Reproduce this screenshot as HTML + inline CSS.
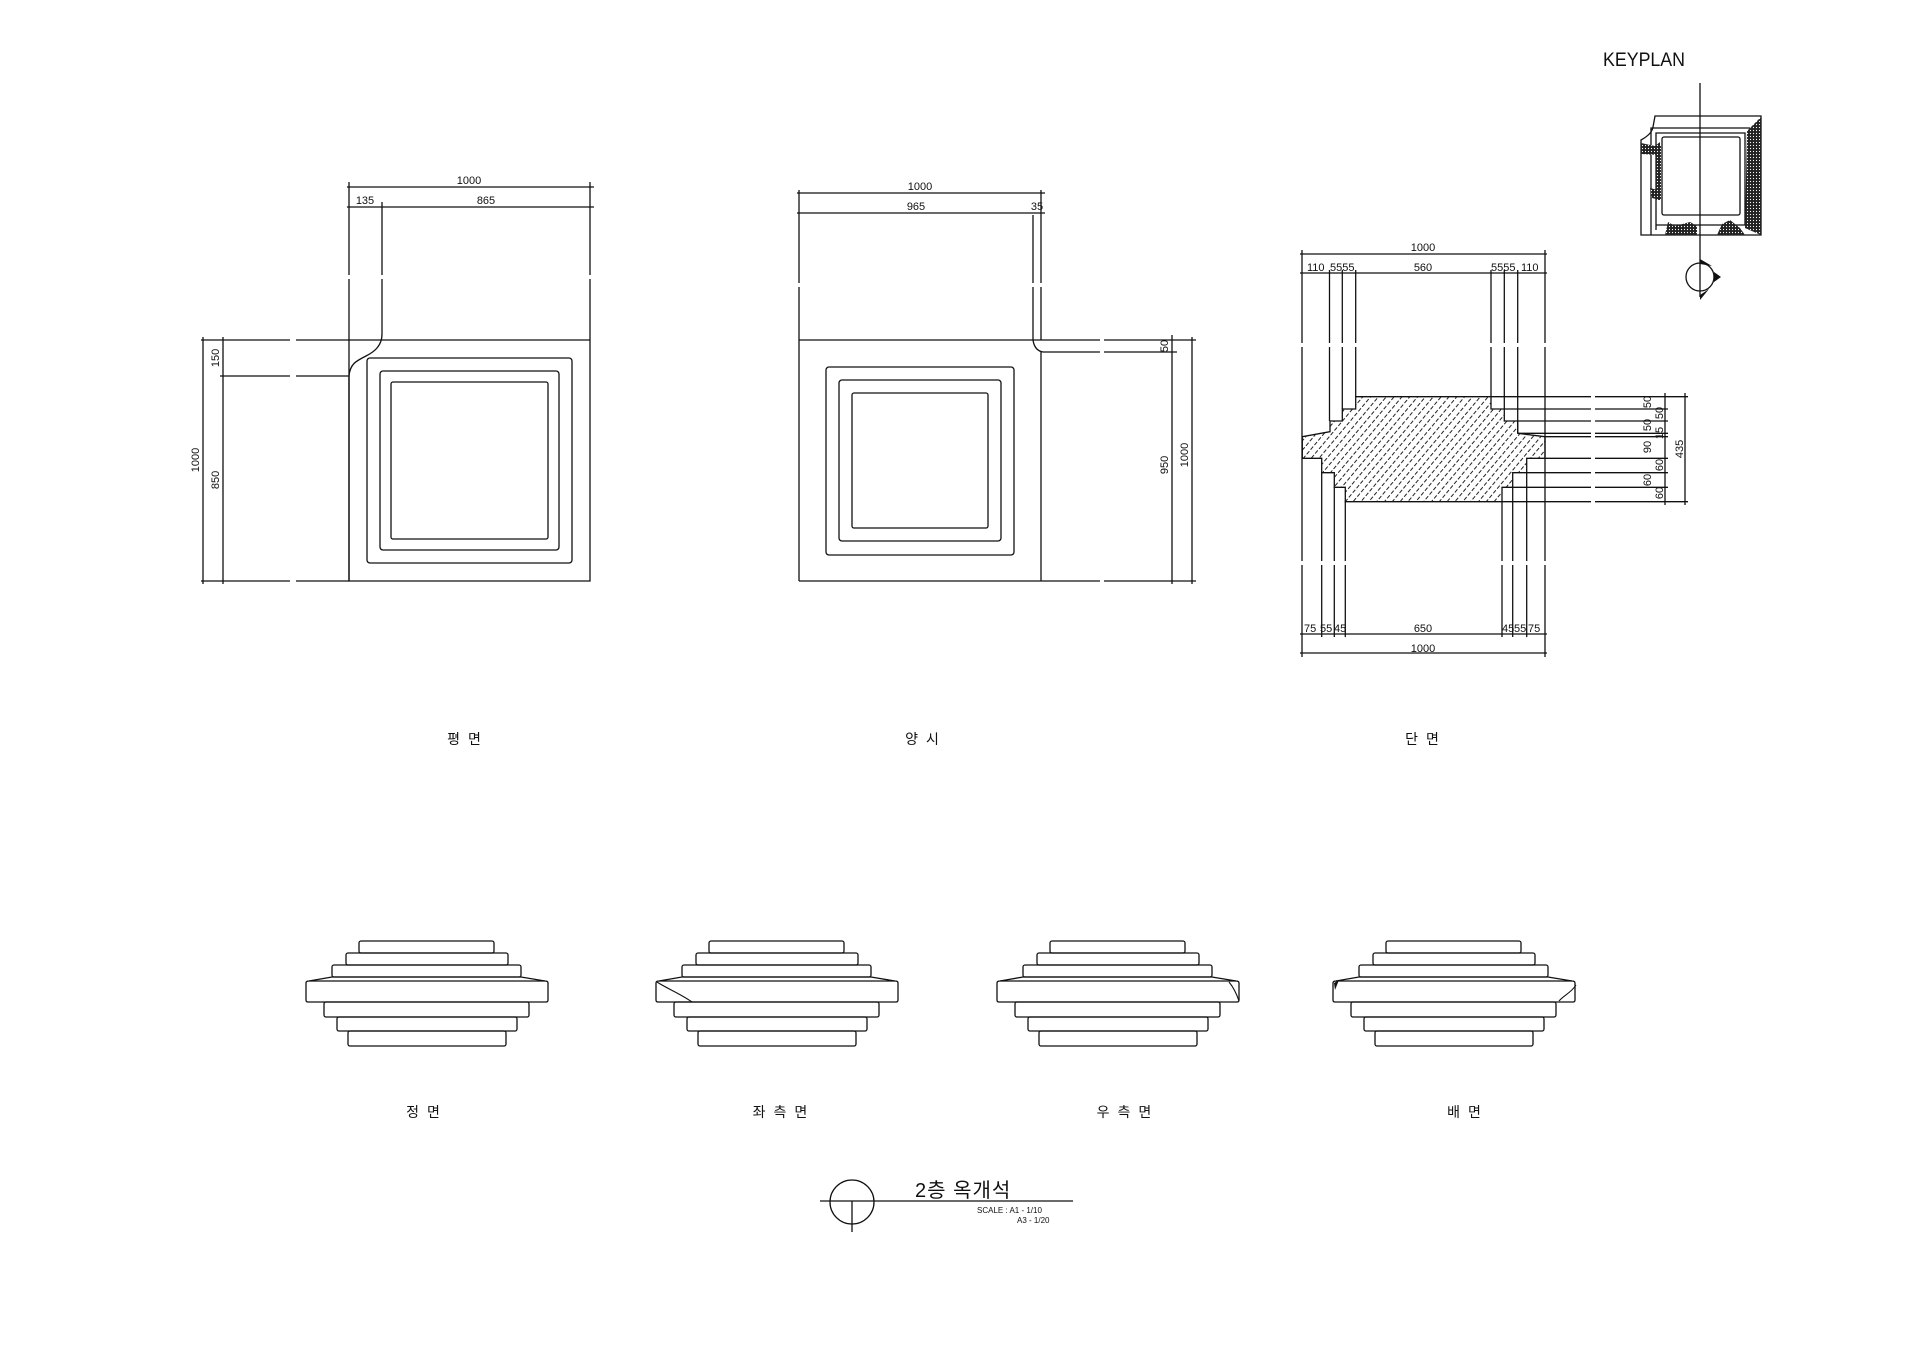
<!DOCTYPE html>
<html><head><meta charset="utf-8">
<style>
html,body{margin:0;padding:0;background:#fff;}
svg{display:block;}
text{font-family:"Liberation Sans","Noto Sans CJK KR",sans-serif;fill:#111;}
</style></head><body>
<svg width="1920" height="1357" viewBox="0 0 1920 1357" xmlns="http://www.w3.org/2000/svg">
<defs>
<pattern id="h" patternUnits="userSpaceOnUse" width="6" height="6" patternTransform="rotate(-50)">
<line x1="0" y1="3" x2="6" y2="3" stroke="#222" stroke-width="1" stroke-dasharray="4,2"/>
</pattern>
<pattern id="dots" patternUnits="userSpaceOnUse" width="3" height="3">
<rect width="3" height="3" fill="#222"/><circle cx="1.5" cy="1.5" r="0.6" fill="#fff"/>
</pattern>
</defs>
<g fill="none" stroke="#111" stroke-width="1.3">
<!-- PLAN -->
<line x1="347" y1="187" x2="594" y2="187"/>
<line x1="347" y1="207" x2="594" y2="207"/>
<line x1="349" y1="182" x2="349" y2="275"/><line x1="349" y1="279" x2="349" y2="581"/>
<line x1="590" y1="182" x2="590" y2="275"/><line x1="590" y1="279" x2="590" y2="340"/>
<line x1="382" y1="202" x2="382" y2="275"/><line x1="382" y1="279" x2="382" y2="334"/>
<path d="M382,334 C382,346 374,352 366,356 C356,361 350,364 349,376"/>
<line x1="349" y1="340" x2="590" y2="340"/>
<path d="M349,376 L349,581 L590,581 L590,340"/>
<line x1="201" y1="340" x2="290" y2="340"/><line x1="296" y1="340" x2="349" y2="340"/>
<line x1="201" y1="581" x2="290" y2="581"/><line x1="296" y1="581" x2="349" y2="581"/>
<line x1="220" y1="376" x2="290" y2="376"/><line x1="296" y1="376" x2="349" y2="376"/>
<line x1="203" y1="337" x2="203" y2="584"/>
<line x1="223" y1="337" x2="223" y2="584"/>
<rect x="367" y="358" width="205" height="205" rx="3"/>
<rect x="380" y="371" width="179" height="179" rx="3"/>
<rect x="391" y="382" width="157" height="157" rx="2"/>
<!-- ELEVATION 양시 -->
<line x1="797" y1="193" x2="1045" y2="193"/>
<line x1="797" y1="213" x2="1045" y2="213"/>
<line x1="799" y1="190" x2="799" y2="283"/><line x1="799" y1="287" x2="799" y2="581"/>
<line x1="1041" y1="190" x2="1041" y2="283"/><line x1="1041" y1="287" x2="1041" y2="340"/>
<line x1="1033" y1="215" x2="1033" y2="283"/><line x1="1033" y1="287" x2="1033" y2="340"/>
<path d="M1033,340 C1034,347 1037,351 1043,352"/>
<line x1="799" y1="340" x2="1100" y2="340"/><line x1="1104" y1="340" x2="1196" y2="340"/>
<line x1="1043" y1="352" x2="1100" y2="352"/><line x1="1104" y1="352" x2="1177" y2="352"/>
<line x1="799" y1="581" x2="1100" y2="581"/><line x1="1104" y1="581" x2="1196" y2="581"/>
<line x1="1041" y1="352" x2="1041" y2="581"/>
<line x1="1172" y1="335" x2="1172" y2="584"/>
<line x1="1192" y1="337" x2="1192" y2="584"/>
<rect x="826" y="367" width="188" height="188" rx="3"/>
<rect x="839" y="380" width="162" height="161" rx="3"/>
<rect x="852" y="393" width="136" height="135" rx="2"/>
<!-- SECTION -->
<line x1="1300" y1="254" x2="1547" y2="254"/>
<line x1="1300" y1="273" x2="1547" y2="273"/>
<line x1="1302" y1="250" x2="1302" y2="343"/><line x1="1302" y1="347" x2="1302" y2="561"/><line x1="1302" y1="565" x2="1302" y2="657"/>
<line x1="1545" y1="250" x2="1545" y2="343"/><line x1="1545" y1="347" x2="1545" y2="561"/><line x1="1545" y1="565" x2="1545" y2="657"/>
<line x1="1329.5" y1="270" x2="1329.5" y2="343"/><line x1="1329.5" y1="347" x2="1329.5" y2="421"/>
<line x1="1342.3" y1="270" x2="1342.3" y2="343"/><line x1="1342.3" y1="347" x2="1342.3" y2="409"/>
<line x1="1355.7" y1="270" x2="1355.7" y2="343"/><line x1="1355.7" y1="347" x2="1355.7" y2="397"/>
<line x1="1491" y1="270" x2="1491" y2="343"/><line x1="1491" y1="347" x2="1491" y2="397"/>
<line x1="1504.3" y1="270" x2="1504.3" y2="343"/><line x1="1504.3" y1="347" x2="1504.3" y2="409"/>
<line x1="1517.7" y1="270" x2="1517.7" y2="343"/><line x1="1517.7" y1="347" x2="1517.7" y2="433"/>
<line x1="1321.7" y1="472" x2="1321.7" y2="561"/><line x1="1321.7" y1="565" x2="1321.7" y2="637"/>
<line x1="1334.3" y1="487" x2="1334.3" y2="561"/><line x1="1334.3" y1="565" x2="1334.3" y2="637"/>
<line x1="1345.3" y1="501" x2="1345.3" y2="561"/><line x1="1345.3" y1="565" x2="1345.3" y2="637"/>
<line x1="1502" y1="501" x2="1502" y2="561"/><line x1="1502" y1="565" x2="1502" y2="637"/>
<line x1="1512.7" y1="487" x2="1512.7" y2="561"/><line x1="1512.7" y1="565" x2="1512.7" y2="637"/>
<line x1="1526.7" y1="472" x2="1526.7" y2="561"/><line x1="1526.7" y1="565" x2="1526.7" y2="637"/>
<line x1="1300" y1="634" x2="1547" y2="634"/>
<line x1="1300" y1="653" x2="1547" y2="653"/>
<polygon fill="url(#h)" points="1355.7,396.7 1491,396.7 1491,409 1504.3,409 1504.3,421 1517.7,421 1517.7,433.3 1536.7,435.7 1545,436.7 1545,458.3 1526.7,458.3 1526.7,472.7 1512.7,472.7 1512.7,487.3 1502,487.3 1502,501.7 1345.3,501.7 1345.3,487.3 1334.3,487.3 1334.3,472.7 1321.7,472.7 1321.7,458.3 1302.3,458.3 1302.3,436.7 1330,431.7 1330,421 1342.3,421 1342.3,409 1355.7,409"/>
<g>
<line x1="1491" y1="396.7" x2="1591" y2="396.7"/><line x1="1595" y1="396.7" x2="1688" y2="396.7"/>
<line x1="1504" y1="409" x2="1591" y2="409"/><line x1="1595" y1="409" x2="1668" y2="409"/>
<line x1="1517" y1="421" x2="1591" y2="421"/><line x1="1595" y1="421" x2="1668" y2="421"/>
<line x1="1518" y1="433.3" x2="1591" y2="433.3"/><line x1="1595" y1="433.3" x2="1668" y2="433.3"/>
<line x1="1545" y1="436.7" x2="1591" y2="436.7"/><line x1="1595" y1="436.7" x2="1668" y2="436.7"/>
<line x1="1545" y1="458.3" x2="1591" y2="458.3"/><line x1="1595" y1="458.3" x2="1668" y2="458.3"/>
<line x1="1527" y1="472.7" x2="1591" y2="472.7"/><line x1="1595" y1="472.7" x2="1668" y2="472.7"/>
<line x1="1513" y1="487.3" x2="1591" y2="487.3"/><line x1="1595" y1="487.3" x2="1668" y2="487.3"/>
<line x1="1502" y1="501.7" x2="1591" y2="501.7"/><line x1="1595" y1="501.7" x2="1688" y2="501.7"/>
<line x1="1665" y1="393" x2="1665" y2="505"/>
<line x1="1685" y1="393" x2="1685" y2="505"/>
</g>
<!-- ELEVATIONS ROW -->
<g id="e1">
<rect x="359" y="941" width="135" height="12" rx="2"/>
<rect x="346" y="953" width="162" height="12" rx="2"/>
<rect x="332" y="965" width="189" height="12" rx="2"/>
<path d="M306,983 Q306,981 309,981 L332,977 L521,977 L545,981 Q548,981 548,983 L548,1000 Q548,1002 546,1002 L308,1002 Q306,1002 306,1000 Z"/>
<line x1="309" y1="981" x2="545" y2="981"/>
<rect x="324" y="1002" width="205" height="15" rx="2"/>
<rect x="337" y="1017" width="180" height="14" rx="2"/>
<rect x="348" y="1031" width="158" height="15" rx="2"/>
</g>
<use href="#e1" x="350"/>
<use href="#e1" x="691"/>
<use href="#e1" x="1027"/>
<path d="M657,982 C666,988 681,994 692,1002" stroke-width="1.1"/>
<path d="M1229,982 C1234,988 1237,995 1239,1001" stroke-width="1.1"/>
<path d="M1559,1001 C1564,995 1571,993 1576,985" stroke-width="1.1"/>
<polygon points="1334,983 1339,980 1335,990" fill="#111" stroke="none"/>
<!-- TITLE -->
<circle cx="852" cy="1202" r="22"/>
<line x1="820" y1="1201" x2="1073" y2="1201"/>
<line x1="852" y1="1201" x2="852" y2="1232"/>
<!-- KEYPLAN -->
<path d="M1655,116 L1761,116 L1761,235 L1641,235 L1641,140 Q1652,134 1653,127 Z"/>
<path d="M1651,235 L1651,128 L1750,128 L1750,230"/>
<path d="M1656,230 L1656,133 L1745,133 L1745,225 L1656,225"/>
<rect x="1662" y="137" width="78" height="78" rx="2"/>
<polygon fill="url(#dots)" stroke="none" points="1747,131 1761,117 1761,235 1745,228"/>
<path fill="url(#dots)" stroke="none" d="M1665,235 L1668,222 L1675,226 L1690,222 L1697,226 L1697,235 Z"/>
<path fill="url(#dots)" stroke="none" d="M1717,235 L1722,224 L1730,220 L1740,228 L1745,235 Z"/>
<path fill="url(#dots)" stroke="none" d="M1641,143 L1655,146 L1660,142 L1660,155 L1641,154 Z"/>
<path fill="url(#dots)" stroke="none" d="M1650,188 L1658,190 L1660,200 L1652,198 Z"/>
<rect x="1656" y="145" width="5" height="55" fill="url(#dots)" stroke="none"/>
<line x1="1700" y1="83" x2="1700" y2="297"/>
<circle cx="1700" cy="277" r="14"/>
</g>
<polygon points="1700,259 1712,266 1700,264" fill="#111"/>
<polygon points="1714,272 1721,277 1714,282" fill="#111"/>
<polygon points="1700,295 1709,289 1700,300" fill="#111"/>

<!-- TEXT -->
<g font-size="11">
<text x="469" y="184" text-anchor="middle">1000</text>
<text x="365" y="204" text-anchor="middle">135</text>
<text x="486" y="204" text-anchor="middle">865</text>
<text transform="translate(219,358) rotate(-90)" text-anchor="middle">150</text>
<text transform="translate(199,460) rotate(-90)" text-anchor="middle">1000</text>
<text transform="translate(219,480) rotate(-90)" text-anchor="middle">850</text>
<text x="920" y="190" text-anchor="middle">1000</text>
<text x="916" y="210" text-anchor="middle">965</text>
<text x="1037" y="210" text-anchor="middle">35</text>
<text transform="translate(1168,346) rotate(-90)" text-anchor="middle">50</text>
<text transform="translate(1168,465) rotate(-90)" text-anchor="middle">950</text>
<text transform="translate(1188,455) rotate(-90)" text-anchor="middle">1000</text>
<text x="1423" y="251" text-anchor="middle">1000</text>
<text x="1307" y="271">110</text>
<text x="1330" y="271">5555</text>
<text x="1423" y="271" text-anchor="middle">560</text>
<text x="1491" y="271">5555</text>
<text x="1521" y="271">110</text>
<text x="1304" y="632">75</text>
<text x="1320" y="632">55</text>
<text x="1334" y="632">45</text>
<text x="1423" y="632" text-anchor="middle">650</text>
<text x="1502" y="632">45</text>
<text x="1514" y="632">55</text>
<text x="1528" y="632">75</text>
<text x="1423" y="652" text-anchor="middle">1000</text>
<text transform="translate(1651,402) rotate(-90)" text-anchor="middle">50</text>
<text transform="translate(1651,425) rotate(-90)" text-anchor="middle">50</text>
<text transform="translate(1651,447) rotate(-90)" text-anchor="middle">90</text>
<text transform="translate(1651,480) rotate(-90)" text-anchor="middle">60</text>
<text transform="translate(1663,413) rotate(-90)" text-anchor="middle">50</text>
<text transform="translate(1663,433) rotate(-90)" text-anchor="middle">15</text>
<text transform="translate(1663,465) rotate(-90)" text-anchor="middle">60</text>
<text transform="translate(1663,493) rotate(-90)" text-anchor="middle">60</text>
<text transform="translate(1683,449) rotate(-90)" text-anchor="middle">435</text>
</g>
<text x="1603" y="66" font-size="19" textLength="82" lengthAdjust="spacingAndGlyphs">KEYPLAN</text>
<g font-size="14" text-anchor="middle" letter-spacing="8">
<text x="468" y="744">평면</text>
<text x="926" y="744">양시</text>
<text x="1426" y="744">단면</text>
<text x="427" y="1117">정면</text>
<text x="784" y="1117">좌측면</text>
<text x="1128" y="1117">우측면</text>
<text x="1468" y="1117">배면</text>
</g>
<text x="915" y="1197" font-size="20" letter-spacing="1">2층 옥개석</text>
<text x="977" y="1213" font-size="8">SCALE : A1 - 1/10</text>
<text x="1017" y="1223" font-size="8">A3 - 1/20</text>
</svg>
</body></html>
